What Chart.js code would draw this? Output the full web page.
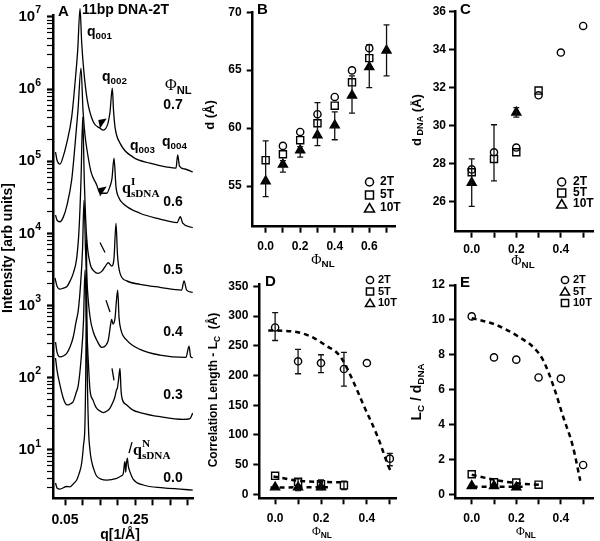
<!DOCTYPE html>
<html>
<head>
<meta charset="utf-8">
<title>11bp DNA-2T</title>
<script src="https://cdn.jsdelivr.net/npm/chart.js@4.4.1/dist/chart.umd.min.js"></script>
<style>
  html, body { margin: 0; padding: 0; background: #fff; }
  #fig { position: relative; width: 600px; height: 541px; overflow: hidden; background: #fff; }
  #fig canvas { position: absolute; }
</style>
</head>
<body>
<div id="fig">
  <canvas id="chartA" width="200" height="541" style="left:0;top:0"></canvas>
  <canvas id="chartB" width="210" height="270" style="left:200px;top:0"></canvas>
  <canvas id="chartC" width="190" height="270" style="left:410px;top:0"></canvas>
  <canvas id="chartD" width="210" height="271" style="left:200px;top:270px"></canvas>
  <canvas id="chartE" width="190" height="271" style="left:410px;top:270px"></canvas>
</div>
<script>
const SANS = "'Liberation Sans', Arial, sans-serif";
const SERIF = "'Liberation Serif', 'Times New Roman', serif";

// ---- panel A: scattering curves, q [1/A] vs intensity (one pair per PhiNL)
const q70 = [0.0229, 0.0271, 0.0357, 0.0443, 0.0549, 0.0691, 0.0786, 0.0863, 0.0929, 0.0977, 0.1043, 0.1137, 0.1309, 0.150, 0.1594, 0.1729, 0.1786, 0.1851, 0.1886, 0.1929, 0.2071, 0.2443, 0.2929, 0.3414, 0.3671, 0.3720, 0.3771, 0.3929, 0.4149];
const i70 = [1.34e5, 1.04e5, 9.1e4, 1.14e5, 1.78e5, 4.08e5, 1.21e6, 3.46e6, 1.3e7, 4.33e6, 1.66e6, 7.0e5, 3.48e5, 2.87e5, 2.70e5, 3.37e5, 4.8e5, 1.03e6, 5.1e5, 2.97e5, 1.78e5, 1.14e5, 9.4e4, 8.3e4, 8.0e4, 1.22e5, 8.55e4, 7.8e4, 7.1e4];
const q60 = [0.0229, 0.0271, 0.0357, 0.0451, 0.0557, 0.0691, 0.0786, 0.0871, 0.0957, 0.1014, 0.1071, 0.1129, 0.1243, 0.1406, 0.150, 0.1691, 0.1786, 0.1843, 0.190, 0.1957, 0.2043, 0.2157, 0.2643, 0.3214, 0.3700, 0.3794, 0.3863, 0.4149];
const i60 = [1.79e4, 1.53e4, 1.45e4, 1.68e4, 2.47e4, 5.5e4, 1.67e5, 5.1e5, 1.95e6, 5.1e5, 2.3e5, 1.43e5, 7.1e4, 4.7e4, 3.6e4, 3.6e4, 4.5e4, 5.8e4, 1.10e5, 4.4e4, 3.1e4, 2.6e4, 1.9e4, 1.58e4, 1.41e4, 1.70e4, 1.39e4, 1.20e4];
const q50 = [0.0214, 0.0271, 0.0357, 0.0451, 0.0549, 0.0643, 0.0737, 0.0834, 0.090, 0.0957, 0.1006, 0.1051, 0.1114, 0.1214, 0.1329, 0.1451, 0.1557, 0.1643, 0.1737, 0.1834, 0.190, 0.1957, 0.200, 0.2071, 0.2263, 0.2643, 0.3214, 0.3834, 0.390, 0.3977, 0.4149];
const i50 = [2.41e3, 1.86e3, 1.69e3, 1.75e3, 1.82e3, 2.18e3, 2.82e3, 4.55e3, 1.11e4, 5.5e4, 4.08e5, 5.5e4, 9.5e3, 3.88e3, 3.0e3, 2.79e3, 3.0e3, 3.45e3, 3.92e3, 3.52e3, 4.55e3, 1.38e4, 5.0e3, 2.82e3, 2.20e3, 1.97e3, 1.79e3, 1.64e3, 2.20e3, 1.64e3, 1.52e3];
const q40 = [0.0229, 0.0271, 0.0357, 0.0451, 0.0549, 0.0643, 0.0737, 0.0814, 0.088, 0.0943, 0.100, 0.1043, 0.1086, 0.1143, 0.1214, 0.1309, 0.1406, 0.1549, 0.1671, 0.1737, 0.180, 0.1834, 0.1871, 0.1929, 0.1971, 0.2006, 0.2043, 0.210, 0.2263, 0.2643, 0.3214, 0.3957, 0.4043, 0.4091, 0.4149];
const i40 = [312, 227, 195, 200, 218, 266, 370, 590, 867, 1.92e3, 5.9e3, 2.89e4, 5.9e3, 1.64e3, 700, 430, 333, 264, 284, 333, 537, 644, 555, 671, 1.19e3, 1.64e3, 693, 457, 333, 247, 206, 192, 275, 195, 190];
const q30 = [0.0229, 0.0271, 0.0357, 0.0451, 0.0529, 0.0594, 0.0671, 0.0737, 0.0814, 0.088, 0.0957, 0.1029, 0.1071, 0.1114, 0.1171, 0.1214, 0.130, 0.1386, 0.150, 0.1594, 0.170, 0.1786, 0.1871, 0.1929, 0.1971, 0.1994, 0.2029, 0.2071, 0.210, 0.2129, 0.2263, 0.2443, 0.2643, 0.3214, 0.388, 0.4071, 0.4149];
const i30 = [188, 128, 79, 52, 43, 42, 44, 47, 61, 79, 176, 628, 3.1e3, 628, 150, 68, 49, 39, 34.6, 33, 34.6, 38, 46, 55, 68, 71, 93, 135, 68, 52, 42, 35.7, 33, 28.9, 26.5, 27.2, 32.4];
const q00 = [0.0229, 0.0271, 0.0357, 0.0549, 0.0643, 0.0757, 0.0834, 0.090, 0.0977, 0.1029, 0.1071, 0.110, 0.1114, 0.1129, 0.1166, 0.1214, 0.1263, 0.1329, 0.1406, 0.1691, 0.1977, 0.210, 0.2166, 0.220, 0.2214, 0.2234, 0.2251, 0.228, 0.2309, 0.2337, 0.2451, 0.2737, 0.3309, 0.3786, 0.4149];
const i00 = [3.48, 2.97, 2.87, 3.12, 3.09, 3.47, 3.83, 4.66, 6.6, 11.7, 24, 300, 8.1e3, 300, 24, 9.9, 6.9, 5.3, 4.35, 3.83, 4.05, 4.35, 4.75, 6.6, 6.9, 4.93, 6.17, 7.7, 5.97, 5.3, 3.92, 3.27, 2.99, 2.87, 2.78];
const qTicksA = [0.05, 0.10, 0.15, 0.20, 0.25, 0.30, 0.35, 0.40];

// ---- panel B: d spacing (A) vs PhiNL
const phiB = [0.0, 0.1, 0.2, 0.3, 0.4, 0.5, 0.6, 0.7];
const d2T = [null, 58.47, 59.67, 61.2, 62.69, 64.98, 66.9, null];
const d5T = [57.24, 57.75, 58.96, 60.42, 61.94, 63.95, 66.04, null];
const d10T = [55.43, 56.87, 58.1, 59.39, 60.25, 62.83, 65.27, 66.7];
const d10TLo = [54.1, 56.2, 57.5, 58.5, 59.0, 61.3, 63.5, 64.5];
const d10THi = [58.9, 57.2, 58.4, 62.2, 61.4, 64.5, 67.2, 68.9];

// ---- panel C: d_DNA (A) vs PhiNL
const phiC = [0.0, 0.1, 0.2, 0.3, 0.4, 0.5];
const dd2T = [27.7, 28.6, 28.85, 31.6, 33.85, 35.25];
const dd5T = [27.55, 28.25, 28.6, 31.85, null, null];
const dd10T = [27.0, null, 30.7, null, null, null];
const dd5TLo = [null, 27.1, null, null, null, null];
const dd5THi = [null, 30.05, null, null, null, null];
const dd10TLo = [25.75, null, 30.45, null, null, null];
const dd10THi = [28.25, null, 30.95, null, null, null];

// ---- panel D: correlation length L_C (A) vs PhiNL
const phiD = [0.0, 0.1, 0.2, 0.3, 0.4, 0.5];
const lc2T = [281, 224, 221, 211, 221, 60];
const lc2TLo = [259, 203, 205, 182, null, 48];
const lc2THi = [306, 244, 235, 239, null, 69];
const lc5T = [31, 21, 17, 15, null, null];
const lc5TLo = [null, 6, 8, 8, null, null];
const lc5THi = [null, 26, 24, 22, null, null];
const lc10T = [11.8, 11.8, 12, null, null, null];
const fitD2Tx = [-0.03, 0.05, 0.11, 0.17, 0.227, 0.265, 0.293, 0.33, 0.388, 0.447, 0.498, 0.51];
const fitD2Ty = [276, 275, 272, 263, 249, 240, 227, 199, 148, 97, 44, 36];
const fitD5Tx = [-0.007, 0.11, 0.29];
const fitD5Ty = [30, 22.5, 20];
const fitD10Tx = [-0.02, 0.23];
const fitD10Ty = [11.5, 11.8];

// ---- panel E: L_C / d_DNA vs PhiNL
const phiE = [0.0, 0.1, 0.2, 0.3, 0.4, 0.5];
const r2T = [10.2, 7.85, 7.72, 6.7, 6.63, 1.68];
const r5T = [0.48, 0.48, 0.4, null, null, null];
const r10T = [1.15, 0.69, 0.67, 0.55, null, null];
const fitE2Tx = [0.0, 0.106, 0.207, 0.287, 0.32, 0.367, 0.41, 0.454, 0.487];
const fitE2Ty = [10.1, 9.73, 9.06, 8.3, 7.7, 6.2, 4.46, 2.74, 0.78];
const fitE10Tx = [0.0, 0.106, 0.207, 0.31];
const fitE10Ty = [1.12, 0.82, 0.63, 0.54];
const fitE5Tx = [0.004, 0.229];
const fitE5Ty = [0.43, 0.43];

// text with sub/superscripts; parts = [text, kind, family, weight]
function rich(ctx, parts, x, y, o) {
  const size = o.size || 14;
  ctx.save();
  ctx.fillStyle = '#000';
  ctx.textBaseline = 'middle';
  const items = parts.map(p => {
    const small = p[1] === 'sub' || p[1] === 'sup' || p[1] === 'sup0';
    const font = (p[3] || 'bold') + ' ' + (small ? size * 0.7 : size) + 'px ' + (p[2] || SANS);
    ctx.font = font;
    const w = ctx.measureText(p[0]).width;
    return { t: p[0], k: p[1] || '', font, w: p[1] === 'sup0' ? 0 : w };
  });
  const total = items.reduce((s, it) => s + it.w, 0);
  ctx.translate(x, y);
  if (o.rotate) ctx.rotate(-Math.PI / 2);
  let cx = o.align === 'center' ? -total / 2 : o.align === 'right' ? -total : 0;
  items.forEach(it => {
    ctx.font = it.font;
    const dy = it.k === 'sub' ? size * 0.3 : (it.k === 'sup' || it.k === 'sup0') ? -size * 0.42 : 0;
    ctx.fillText(it.t, cx, dy);
    cx += it.w;
  });
  ctx.restore();
}

function marker(ctx, kind, x, y, r) {
  ctx.save();
  ctx.strokeStyle = '#000';
  ctx.lineWidth = 1.5;
  ctx.beginPath();
  if (kind === 'circle') ctx.arc(x, y, r, 0, Math.PI * 2);
  else if (kind === 'rect') ctx.rect(x - r, y - r, 2 * r, 2 * r);
  else { ctx.moveTo(x, y - r - 0.5); ctx.lineTo(x + r + 1, y + r); ctx.lineTo(x - r - 1, y + r); ctx.closePath(); }
  ctx.stroke();
  ctx.restore();
}

function legend(ctx, rows, mx, tx, ys, size, r) {
  rows.forEach((row, i) => {
    marker(ctx, row[0], mx, ys[i], r);
    rich(ctx, [[row[1]]], tx, ys[i], { size });
  });
}

const phiTitle = (ctx, x, y, size) =>
  rich(ctx, [['Φ', '', SERIF, 'normal'], ['NL', 'sub']], x, y, { size, align: 'center' });

const errorBars = {
  id: 'errorBars',
  afterDatasetsDraw(chart) {
    const { ctx, scales: { x, y } } = chart;
    ctx.save();
    ctx.strokeStyle = '#111';
    ctx.lineWidth = 1.3;
    chart.data.datasets.forEach(ds => {
      ds.data.forEach(p => {
        if (p.lo == null) return;
        const px = x.getPixelForValue(p.x);
        const y1 = y.getPixelForValue(p.lo), y2 = y.getPixelForValue(p.hi);
        ctx.beginPath();
        ctx.moveTo(px, y1); ctx.lineTo(px, y2);
        ctx.moveTo(px - 3, y1); ctx.lineTo(px + 3, y1);
        ctx.moveTo(px - 3, y2); ctx.lineTo(px + 3, y2);
        ctx.stroke();
      });
    });
    ctx.restore();
  }
};

function pts(xs, ys, lo, hi) {
  return xs.map((v, i) => ({ x: v, y: ys[i], lo: lo ? lo[i] : null, hi: hi ? hi[i] : null }))
    .filter(p => p.y != null);
}

function marks(data, style, filled) {
  const r = style === 'circle' ? 3.6 : style === 'rect' ? 5 : 5.2;
  return {
    data, showLine: false, pointStyle: style, pointRadius: r, pointHoverRadius: r,
    borderColor: '#000', pointBorderColor: '#000', pointBorderWidth: 1.4,
    backgroundColor: filled ? '#000' : 'rgba(0,0,0,0)',
    pointBackgroundColor: filled ? '#000' : 'rgba(0,0,0,0)'
  };
}

function fitLine(xs, ys) {
  return {
    data: xs.map((v, i) => ({ x: v, y: ys[i] })), showLine: true, pointRadius: 0,
    borderColor: '#000', borderWidth: 2.5, borderDash: [5, 4],
    cubicInterpolationMode: 'monotone', fill: false
  };
}

function axis(horizontal, min, max, tickVals, fmt, size, pad) {
  return {
    type: 'linear', min, max,
    afterBuildTicks: s => { s.ticks = tickVals.map(v => ({ value: v })); },
    afterFit: s => { if (horizontal) s.height = size; else s.width = size; },
    grid: { drawOnChartArea: false, drawTicks: true, tickLength: 6, tickWidth: 2, tickColor: '#000' },
    border: { display: true, color: '#000', width: 2.5 },
    ticks: {
      autoSkip: false, maxRotation: 0, padding: pad, color: '#000',
      font: { family: SANS, size: 12, weight: 'bold' }, callback: v => fmt(v)
    }
  };
}

const fmtX = v => (Math.round(v * 10) % 2 === 0 ? v.toFixed(1) : '');
const fmtY = v => String(v);

function base(padding, scales) {
  return {
    responsive: false, animation: false, events: [],
    layout: { padding },
    plugins: { legend: { display: false }, tooltip: { enabled: false } },
    scales
  };
}

// ---------------- panel A
const curvesA = [[q70, i70], [q60, i60], [q50, i50], [q40, i40], [q30, i30], [q00, i00]];
const notesA = [
  { q: 0.030, l: 7.065, parts: [['A']], size: 15 },
  { q: 0.0986, l: 7.093, parts: [['11bp DNA-2T']], size: 14 },
  { q: 0.1129, l: 6.788, parts: [['q'], ['001', 'sub']] },
  { q: 0.1557, l: 6.165, parts: [['q'], ['002', 'sub']] },
  { q: 0.2357, l: 5.21, parts: [['q'], ['003', 'sub']] },
  { q: 0.3271, l: 5.265, parts: [['q'], ['004', 'sub']] },
  { q: 0.3357, l: 6.04, parts: [['Φ', '', SERIF, 'normal'], ['NL', 'sub']], size: 16 },
  { q: 0.3586, l: 5.777, parts: [['0.7']], align: 'center' },
  { q: 0.2129, l: 4.611, parts: [['q', '', SERIF], ['I', 'sup0', SERIF], ['sDNA', 'sub', SERIF]], size: 16 },
  { q: 0.3586, l: 4.431, parts: [['0.6']], align: 'center' },
  { q: 0.3586, l: 3.492, parts: [['0.5']], align: 'center' },
  { q: 0.3586, l: 2.630, parts: [['0.4']], align: 'center' },
  { q: 0.3586, l: 1.761, parts: [['0.3']], align: 'center' },
  { q: 0.2443, l: 0.985, parts: [['q', '', SERIF], ['N', 'sup0', SERIF], ['sDNA', 'sub', SERIF]], size: 16 },
  { q: 0.3586, l: 0.611, parts: [['0.0']], align: 'center' }
];
const arrowsA = [[0.1557, 5.528], [0.1557, 4.583]];
const slashesA = [[0.15, 3.875, 0.1643, 3.736], [0.1671, 3.076, 0.1786, 2.910], [0.1843, 2.131, 0.19, 1.965], [0.2329, 0.957, 0.2414, 1.109]];

const logTicks = [];
for (let e = 0; e <= 7; e++) for (let m = 1; m <= 9; m++) {
  const v = m * Math.pow(10, e);
  if (v >= 2.14 && v <= 1.06e7) logTicks.push(v);
}
const isDecade = v => Math.abs(Math.log10(v) - Math.round(Math.log10(v))) < 1e-6;

const decorA = {
  id: 'decorA',
  afterDraw(chart) {
    const { ctx, chartArea: a, scales: { x, y } } = chart;
    const P = (q, l) => [x.getPixelForValue(q), y.getPixelForValue(Math.pow(10, l))];
    for (let e = 1; e <= 7; e++) {
      rich(ctx, [['10'], [String(e), 'sup']], a.left - 12, y.getPixelForValue(Math.pow(10, e)), { size: 15, align: 'right' });
    }
    notesA.forEach(n => {
      const [px, py] = P(n.q, n.l);
      rich(ctx, n.parts, px, py, { size: n.size || 14, align: n.align || 'left' });
    });
    ctx.save();
    ctx.fillStyle = '#000';
    arrowsA.forEach(([q, l]) => {
      const [cx, cy] = P(q, l);
      ctx.beginPath();
      ctx.moveTo(cx - 3.7, cy - 3); ctx.lineTo(cx + 4.7, cy - 4.7); ctx.lineTo(cx - 2, cy + 5.3);
      ctx.closePath(); ctx.fill();
    });
    ctx.strokeStyle = '#000';
    ctx.lineWidth = 1.3;
    slashesA.forEach(([q1, l1, q2, l2]) => {
      const [x1, y1] = P(q1, l1), [x2, y2] = P(q2, l2);
      ctx.beginPath(); ctx.moveTo(x1, y1); ctx.lineTo(x2, y2); ctx.stroke();
    });
    ctx.restore();
    rich(ctx, [['Intensity [arb units]']], 8, 248, { size: 14, align: 'center', rotate: true });
    rich(ctx, [['q[1/Å]']], 120, 535, { size: 14, align: 'center' });
  }
};

new Chart(document.getElementById('chartA'), {
  type: 'scatter',
  data: {
    datasets: curvesA.map(([qs, is], k) => ({
      data: qs.map((q, i) => ({ x: q, y: is[i] })),
      showLine: true, pointRadius: 0, borderColor: '#000', borderWidth: 1.3,
      cubicInterpolationMode: 'monotone', clip: k === 0 ? { left: 0, right: 0, top: 12, bottom: 0 } : 0
    }))
  },
  options: base({ left: 0, top: 15, right: 7, bottom: 0 }, {
    x: {
      type: 'linear', min: 0.0157, max: 0.4157,
      afterBuildTicks: s => { s.ticks = qTicksA.map(v => ({ value: v })); },
      afterFit: s => { s.height = 42.7; },
      grid: { drawOnChartArea: false, tickLength: 7, tickWidth: 2, tickColor: '#000' },
      border: { color: '#000', width: 2.5 },
      ticks: {
        autoSkip: false, maxRotation: 0, padding: 6, color: '#000',
        font: { family: SANS, size: 14, weight: 'bold' },
        callback: v => (Math.abs(v - 0.05) < 1e-6 ? '0.05' : Math.abs(v - 0.25) < 1e-6 ? '0.25' : '')
      }
    },
    y: {
      type: 'logarithmic', min: 2.14, max: 1.06e7,
      afterBuildTicks: s => { s.ticks = logTicks.map(v => ({ value: v })); },
      afterFit: s => { s.width = 53; },
      grid: {
        drawOnChartArea: false, tickLength: 6, tickColor: '#000',
        tickWidth: c => (c.tick && isDecade(c.tick.value) ? 2.2 : 1.2)
      },
      border: { color: '#000', width: 2.5 },
      ticks: { autoSkip: false, callback: () => '' }
    }
  }),
  plugins: [decorA]
});

// ---------------- panel B
new Chart(document.getElementById('chartB'), {
  type: 'scatter',
  data: {
    datasets: [
      marks(pts(phiB, d2T), 'circle', false),
      marks(pts(phiB, d5T), 'rect', false),
      marks(pts(phiB, d10T, d10TLo, d10THi), 'triangle', true)
    ]
  },
  options: base({ left: 0, top: 11.7, right: 14.3, bottom: 0 }, {
    x: axis(true, -0.075, 0.753, [0, 0.1, 0.2, 0.3, 0.4, 0.5, 0.6, 0.7], fmtX, 43.3, 7),
    y: axis(false, 51.5, 70, [55, 60, 65, 70], fmtY, 52.7, 5)
  }),
  plugins: [errorBars, {
    id: 'decorB',
    afterDraw(chart) {
      const ctx = chart.ctx;
      rich(ctx, [['B']], 57, 10, { size: 15 });
      rich(ctx, [['d (Å)']], 10, 115, { size: 13, align: 'center', rotate: true });
      phiTitle(ctx, 123, 260, 14);
      legend(ctx, [['circle', '2T'], ['rect', '5T'], ['triangle', '10T']], 169.5, 180, [182, 195, 208], 12, 4);
    }
  }]
});

// ---------------- panel C
new Chart(document.getElementById('chartC'), {
  type: 'scatter',
  data: {
    datasets: [
      marks(pts(phiC, dd2T), 'circle', false),
      marks(pts(phiC, dd5T, dd5TLo, dd5THi), 'rect', false),
      marks(pts(phiC, dd10T, dd10TLo, dd10THi), 'triangle', true)
    ]
  },
  options: base({ left: 0, top: 11.7, right: 2, bottom: 0 }, {
    x: axis(true, -0.075, 0.546, [0, 0.1, 0.2, 0.3, 0.4, 0.5], fmtX, 38.3, 5),
    y: axis(false, 24.42, 36, [26, 28, 30, 32, 34, 36], fmtY, 45, 3)
  }),
  plugins: [errorBars, {
    id: 'decorC',
    afterDraw(chart) {
      const ctx = chart.ctx;
      rich(ctx, [['C']], 50, 10, { size: 15 });
      rich(ctx, [['d'], [' DNA', 'sub'], [' (Å)']], 7, 120, { size: 13, align: 'center', rotate: true });
      phiTitle(ctx, 113, 261, 14);
      legend(ctx, [['circle', '2T'], ['rect', '5T'], ['triangle', '10T']], 151.7, 163, [182, 193, 204], 12, 4);
    }
  }]
});

// ---------------- panel D
new Chart(document.getElementById('chartD'), {
  type: 'scatter',
  data: {
    datasets: [
      fitLine(fitD2Tx, fitD2Ty),
      fitLine(fitD5Tx, fitD5Ty),
      fitLine(fitD10Tx, fitD10Ty),
      marks(pts(phiD, lc2T, lc2TLo, lc2THi), 'circle', false),
      marks(pts(phiD, lc5T, lc5TLo, lc5THi), 'rect', false),
      marks(pts(phiD, lc10T), 'triangle', true)
    ]
  },
  options: base({ left: 0, top: 14.1, right: 13.3, bottom: 0 }, {
    x: axis(true, -0.069, 0.53, [0, 0.1, 0.2, 0.3, 0.4, 0.5], fmtX, 42.7, 7),
    y: axis(false, -6.8, 354, [0, 50, 100, 150, 200, 250, 300, 350], fmtY, 59.3, 5)
  }),
  plugins: [errorBars, {
    id: 'decorD',
    afterDraw(chart) {
      const ctx = chart.ctx;
      rich(ctx, [['D']], 65, 12, { size: 15 });
      rich(ctx, [['Correlation Length - L'], ['C', 'sub'], ['  (Å)']], 14, 120, { size: 12, align: 'center', rotate: true });
      phiTitle(ctx, 122, 262, 12);
      legend(ctx, [['circle', '2T'], ['rect', '5T'], ['triangle', '10T']], 170, 178, [10, 21.5, 33], 11, 3.6);
    }
  }]
});

// ---------------- panel E
new Chart(document.getElementById('chartE'), {
  type: 'scatter',
  data: {
    datasets: [
      fitLine(fitE2Tx, fitE2Ty),
      fitLine(fitE10Tx, fitE10Ty),
      fitLine(fitE5Tx, fitE5Ty),
      marks(pts(phiE, r2T), 'circle', false),
      marks(pts(phiE, r5T), 'triangle', true),
      marks(pts(phiE, r10T), 'rect', false)
    ]
  },
  options: base({ left: 0, top: 15, right: 2, bottom: 0 }, {
    x: axis(true, -0.075, 0.546, [0, 0.1, 0.2, 0.3, 0.4, 0.5], fmtX, 42.7, 7),
    y: axis(false, -0.23, 12, [0, 2, 4, 6, 8, 10, 12], fmtY, 45, 4)
  }),
  plugins: [{
    id: 'decorE',
    afterDraw(chart) {
      const ctx = chart.ctx;
      rich(ctx, [['E']], 50, 13, { size: 15 });
      rich(ctx, [['L'], ['C', 'sub'], [' / d'], ['DNA', 'sub']], 7, 122, { size: 14, align: 'center', rotate: true });
      phiTitle(ctx, 116, 262, 12);
      legend(ctx, [['circle', '2T'], ['triangle', '5T'], ['rect', '10T']], 155, 163, [10, 21.5, 33], 11, 3.6);
    }
  }]
});
</script>
</body>
</html>
